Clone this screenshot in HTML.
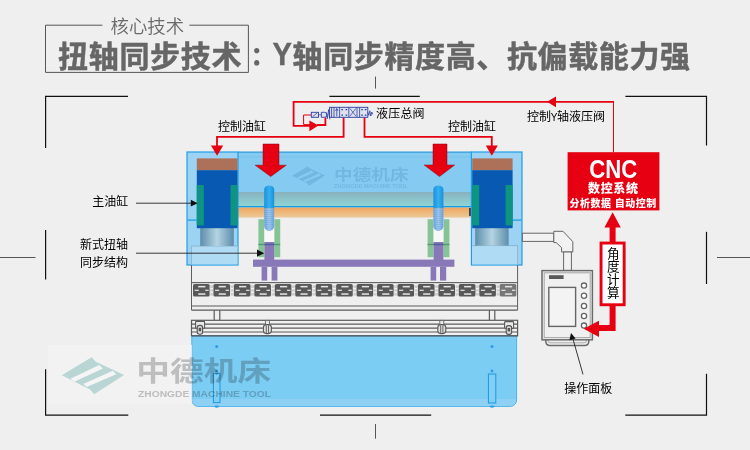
<!DOCTYPE html>
<html lang="zh"><head><meta charset="utf-8"><title>扭轴同步技术</title>
<style>
html,body{margin:0;padding:0;background:#efefef;}
body{width:750px;height:450px;overflow:hidden;font-family:"Liberation Sans","Noto Sans CJK SC",sans-serif;}
svg{display:block}
text{font-family:"Liberation Sans","Noto Sans CJK SC",sans-serif;}
.lb{font-size:12px;fill:#000}
</style></head><body>
<svg width="750" height="450" viewBox="0 0 750 450">
<defs>
<linearGradient id="gTeal" x1="0" y1="0" x2="0" y2="1"><stop offset="0" stop-color="#88b2bd"/><stop offset="1" stop-color="#8fd5d6"/></linearGradient>
<linearGradient id="gOr" x1="0" y1="0" x2="0" y2="1"><stop offset="0" stop-color="#f0a660"/><stop offset="0.85" stop-color="#ecc592"/><stop offset="1" stop-color="#eae2d6"/></linearGradient>
<linearGradient id="gPis" x1="0" y1="0" x2="1" y2="0"><stop offset="0" stop-color="#5d8dab"/><stop offset="0.5" stop-color="#b4d4e2"/><stop offset="1" stop-color="#5d8dab"/></linearGradient>
<linearGradient id="gRod" x1="0" y1="0" x2="1" y2="0"><stop offset="0" stop-color="#1b8fdc"/><stop offset="0.5" stop-color="#35b0f0"/><stop offset="1" stop-color="#1b8fdc"/></linearGradient>
<linearGradient id="gRod2" x1="0" y1="0" x2="1" y2="0"><stop offset="0" stop-color="#6fa4dc"/><stop offset="0.5" stop-color="#9ccaf0"/><stop offset="1" stop-color="#6fa4dc"/></linearGradient>
<pattern id="thr" x="0" y="0" width="4" height="2" patternUnits="userSpaceOnUse"><rect x="0" y="0" width="4" height="1" fill="#5f86c8" opacity="0.25"/></pattern>
<g id="unit">
<rect x="0" y="0" width="16.6" height="12.6" rx="1.5" fill="#585858"/>
<rect x="5.2" y="1.9" width="7.2" height="1.5" fill="#e6e6e6"/>
<rect x="5.2" y="9.3" width="7.2" height="1.5" fill="#e6e6e6"/>
<rect x="1.6" y="5.7" width="4.2" height="1.2" fill="#e6e6e6"/>
<rect x="12.2" y="5.7" width="3.4" height="1.2" fill="#e6e6e6"/>
<rect x="17.2" y="1.2" width="3" height="10.4" fill="#cfcfcf"/>
<rect x="17.2" y="4" width="3" height="1.2" fill="#f4f4f4"/>
<rect x="17.2" y="7.6" width="3" height="1.2" fill="#f4f4f4"/>
</g>
<g id="unitL">
<rect x="0" y="0" width="16.6" height="12.6" rx="1.5" fill="#777"/>
<rect x="5.2" y="1.9" width="7.2" height="1.5" fill="#e6e6e6"/>
<rect x="5.2" y="9.3" width="7.2" height="1.5" fill="#e6e6e6"/>
<rect x="1.6" y="5.7" width="4.2" height="1.2" fill="#e6e6e6"/>
<rect x="12.2" y="5.7" width="3.4" height="1.2" fill="#e6e6e6"/>
</g>
<g id="clampA"><rect x="0" y="0" width="9" height="6.8" rx="0.8" fill="#e9e9e9" stroke="#5a5a5a" stroke-width="1.1"/><rect x="1.6" y="4" width="5.4" height="8.8" rx="2.2" fill="#d9d9d9" stroke="#555" stroke-width="1.1"/><rect x="3" y="6.4" width="2.6" height="3.4" fill="#555"/></g>
<g id="clampB"><rect x="2" y="0" width="4" height="4.4" fill="#e9e9e9" stroke="#666" stroke-width="0.9"/><rect x="0" y="4.2" width="8" height="9" rx="3" fill="#dedede" stroke="#5a5a5a" stroke-width="1.1"/><path d="M2.9,5V12.6M5.1,5V12.6" stroke="#5a5a5a" stroke-width="0.9"/></g>
</defs>
<rect x="0" y="0" width="750" height="450" fill="#efefef"/>
<g fill="none" stroke="#111" stroke-width="1.2">
<path d="M128,96.4H45.6V148"/>
<path d="M625.4,96.4H706.5V145.6"/>
<path d="M45.6,230V279.5"/>
<path d="M706.5,231.8V284"/>
<path d="M45.6,369.3V415.2H128.3"/>
<path d="M706.5,373.7V415.2H625.3"/>
<path d="M329.4,96.4H419.8"/>
<path d="M320,415.2H431.2"/>
</g>
<g fill="none" stroke="#555" stroke-width="1">
<path d="M375.5,76.6V88.6"/>
<path d="M375.5,424V438.7"/>
<path d="M0,257.5H35.5"/>
<path d="M717,257.5H750"/>
</g>
<g fill="none" stroke="#555" stroke-width="1">
<path d="M102.4,25.2H45.5V72.4H248.4V25.2H189.4"/>
</g>
<text x="110.5" y="32.5" font-size="18.4" font-weight="350" fill="#6a6a6a" style="font-family:'Liberation Sans','Noto Sans CJK SC',sans-serif">核心技术</text>
<text id="t1" font-size="30" font-weight="700" fill="#666" stroke="#666" stroke-width="0.5"><tspan x="58" y="66.5" letter-spacing="0.7">扭轴同步技术</tspan><tspan x="250.5" y="65.1" font-size="25" font-weight="900" stroke="none" style="font-family:'Liberation Sans','Noto Sans CJK JP',sans-serif">：</tspan><tspan x="272.6" y="64.8" font-size="32" stroke-width="0.4" textLength="19.4" lengthAdjust="spacingAndGlyphs">Y</tspan><tspan x="292.6" y="66.5" letter-spacing="0.62">轴同步精度高、抗偏载能力强</tspan></text>
<g>
<rect x="238" y="152" width="233.5" height="40" fill="#85cbf1"/>
<rect x="238" y="192" width="233.5" height="14.5" fill="url(#gTeal)"/>
<rect x="238" y="206" width="233.5" height="1.6" fill="#1a9ade"/>
<rect x="238" y="207.6" width="233.5" height="10.4" fill="url(#gOr)"/>
<rect x="238" y="151.5" width="233.5" height="1.2" fill="#2b9ad8"/>
<rect x="238" y="156.6" width="233.5" height="0.8" fill="#74bdea"/>
<rect x="469.2" y="208" width="1.6" height="8" fill="#222"/>
</g>
<g>
<rect x="187" y="152" width="51" height="113" fill="#9cd3f5" stroke="#1f9fe6" stroke-width="1.2"/>
<rect x="187.6" y="219.4" width="9" height="1.4" fill="#27a2e4"/>
<rect x="191.5" y="246" width="46" height="18.4" fill="#b0dbf5"/>
<path d="M237.4,246H191.5V265" fill="none" stroke="#8eb6cc" stroke-width="1"/><path d="M191.5,265V310" fill="none" stroke="#5e5e5e" stroke-width="1"/>
<rect x="200.2" y="228" width="33.6" height="18" fill="url(#gPis)"/>
<rect x="196.8" y="158.4" width="40.7" height="12" fill="#ad7159"/>
<rect x="196.8" y="170.2" width="40.7" height="58" fill="#0759b2"/>
<rect x="196.8" y="185" width="7" height="40.4" fill="#0d9582"/>
<rect x="230.5" y="185" width="7" height="40.4" fill="#0d9582"/>
</g>
<g>
<rect x="471.4" y="152" width="50.6" height="113" fill="#9cd3f5" stroke="#1f9fe6" stroke-width="1.2"/>
<rect x="512.6" y="219.4" width="9" height="1.4" fill="#27a2e4"/>
<rect x="472" y="245.6" width="45.6" height="18.8" fill="#b0dbf5"/>
<path d="M472.4,245.6H517.6V265" fill="none" stroke="#8eb6cc" stroke-width="1"/><path d="M517.6,265V310" fill="none" stroke="#5e5e5e" stroke-width="1"/>
<rect x="475.2" y="228" width="33.4" height="17.6" fill="url(#gPis)"/>
<rect x="472.2" y="158.4" width="40.4" height="12" fill="#ad7159"/>
<rect x="472.2" y="170.2" width="40.4" height="58" fill="#0759b2"/>
<rect x="472.2" y="185" width="7" height="40.4" fill="#0d9582"/>
<rect x="505.6" y="185" width="7" height="40.4" fill="#0d9582"/>
</g>
<g>
<rect x="258.4" y="219.2" width="6" height="38" fill="#86c497"/>
<rect x="274.2" y="219.2" width="6" height="38" fill="#86c497"/>
<rect x="264.4" y="219.2" width="9.8" height="23" fill="#f8f8f8"/>
<rect x="264.4" y="242" width="9.8" height="19" fill="#8878b8"/>
<rect x="258.4" y="243.8" width="21.8" height="1.4" fill="#4f9a70"/>
<rect x="264.4" y="243.8" width="9.8" height="1.4" fill="#5a55a8"/>
<path d="M264.2,189.4 a5,4 0 0 1 10,0 V208.5 H264.2Z" fill="url(#gRod)"/>
<path d="M264.2,208.5 H274.2 V226 a5,5 0 0 1 -10,0Z" fill="url(#gRod2)"/>
<path d="M264.2,209 H274.2 V226 a5,5 0 0 1 -10,0Z" fill="url(#thr)"/>
</g><g>
<rect x="427.59999999999997" y="219.2" width="6" height="38" fill="#86c497"/>
<rect x="443.4" y="219.2" width="6" height="38" fill="#86c497"/>
<rect x="433.59999999999997" y="219.2" width="9.8" height="23" fill="#f8f8f8"/>
<rect x="433.59999999999997" y="242" width="9.8" height="19" fill="#8878b8"/>
<rect x="427.59999999999997" y="243.8" width="21.8" height="1.4" fill="#4f9a70"/>
<rect x="433.59999999999997" y="243.8" width="9.8" height="1.4" fill="#5a55a8"/>
<path d="M433.4,189.4 a5,4 0 0 1 10,0 V208.5 H433.4Z" fill="url(#gRod)"/>
<path d="M433.4,208.5 H443.4 V226 a5,5 0 0 1 -10,0Z" fill="url(#gRod2)"/>
<path d="M433.4,209 H443.4 V226 a5,5 0 0 1 -10,0Z" fill="url(#thr)"/>
</g><g fill="#8878b8">
<rect x="253" y="259.6" width="201.4" height="7.2"/>
<rect x="261.6" y="266.8" width="5.6" height="13.8"/>
<rect x="271.6" y="266.8" width="5.8" height="13.8"/>
<rect x="430.6" y="266.8" width="5.6" height="13.8"/>
<rect x="440" y="266.8" width="6.2" height="13.8"/>
</g>
<g><rect x="191.5" y="282" width="326" height="1.2" fill="#666"/><use href="#unit" x="193.00" y="284"/><use href="#unit" x="213.45" y="284"/><use href="#unit" x="233.90" y="284"/><use href="#unit" x="254.35" y="284"/><use href="#unit" x="274.80" y="284"/><use href="#unit" x="295.25" y="284"/><use href="#unit" x="315.70" y="284"/><use href="#unit" x="336.15" y="284"/><use href="#unit" x="356.60" y="284"/><use href="#unit" x="377.05" y="284"/><use href="#unit" x="397.50" y="284"/><use href="#unit" x="417.95" y="284"/><use href="#unit" x="438.40" y="284"/><use href="#unit" x="458.85" y="284"/><use href="#unit" x="479.30" y="284"/><use href="#unitL" x="499.75" y="284"/></g><g fill="none" stroke="#5a5a5a" stroke-width="1.2">
<path d="M191.5,306H517.6"/>
<path d="M191.5,310.2H517.6"/>
<path d="M214.2,310.2V320.2M219.8,310.2V320.2M489.4,310.2V320.2M494.8,310.2V320.2"/>
<rect x="191.5" y="320.3" width="326.1" height="15.4" fill="#f1f1f1"/>
<path d="M191.5,324.2H517.6"/>
<path d="M191.5,328.2H517.6"/>
<path d="M191.5,332H517.6"/>
</g>
<use href="#clampA" x="195.6" y="321.4"/>
<use href="#clampA" x="504.6" y="321.6"/>
<use href="#clampB" x="263.4" y="320.4"/>
<use href="#clampB" x="437.8" y="320.4"/>
<g>
<path d="M191.8,336H516.6V400a6.4,6.4 0 0 1 -6.4,6.4H198.2a6.4,6.4 0 0 1 -6.4,-6.4Z" fill="#7ccdf4" stroke="#4fb2ea" stroke-width="1"/>
<path d="M192.4,399H516V400.2a5.8,5.8 0 0 1 -5.8,5.7H198.2a5.8,5.8 0 0 1 -5.8,-5.7Z" fill="#8ed1f5"/>
<rect x="191.5" y="335.3" width="326.1" height="1.2" fill="#555"/>
<g fill="#80cff5" stroke="#1f97e0" stroke-width="1">
<rect x="213.4" y="373.6" width="6.6" height="29"/>
<rect x="488.4" y="374" width="7.4" height="29"/>
</g>
<g fill="#2a9de4">
<circle cx="216.7" cy="346.4" r="1.5"/><circle cx="216.7" cy="370.8" r="1.4"/><ellipse cx="216.7" cy="406.6" rx="2.4" ry="1.1"/>
<circle cx="492" cy="346.4" r="1.5"/><circle cx="492" cy="371" r="1.4"/><ellipse cx="492" cy="406.6" rx="2.6" ry="1.1"/>
</g>
</g>
<g stroke="#666" stroke-width="1" fill="#f2f2f2">
<rect x="522.4" y="233.2" width="31.4" height="8.2"/>
<path d="M553.8,231.3H563L572.8,241.6V252H561.6V247.6L556.2,242.6H553.8Z"/>
<rect x="563.6" y="252" width="7.8" height="18.4"/>
</g>
<g>
<path d="M545.8,339.8V341.2q0,4.2 4.2,4.2H584.6q4.2,0 4.2,-4.2V339.8" fill="none" stroke="#6a6a6a" stroke-width="1.5"/>
<path d="M548,339.8V340.4q0,2.4 2.4,2.4H584.2q2.4,0 2.4,-2.4V339.8" fill="none" stroke="#999" stroke-width="0.8"/>
<rect x="542" y="270.6" width="50.4" height="69.2" fill="#f0f0f0" stroke="#6a6a6a" stroke-width="1.5"/>
<rect x="544.2" y="272.8" width="46" height="64.8" fill="none" stroke="#a4a4a4" stroke-width="1"/>
<rect x="549" y="275.2" width="14.6" height="3.8" fill="#5a5a5a"/>
<rect x="548.8" y="287.4" width="26.8" height="39" fill="#f3f3f3" stroke="#666" stroke-width="1.4"/>
<g fill="#fff" stroke="#666" stroke-width="1.3">
<circle cx="584" cy="285.6" r="2.6"/><circle cx="584" cy="295.8" r="2.6"/><circle cx="584" cy="306" r="2.6"/><circle cx="584" cy="316" r="2.6"/><circle cx="584" cy="325.6" r="2.6"/>
</g>
</g>
<g fill="none" stroke="#e60012" stroke-width="1.8" stroke-linejoin="miter">
<path d="M613.5,101.8H293.6V125.8H310"/>
<path d="M317,125H325.4V117.4"/>
<path d="M343.6,117.4V136.9H217V146"/>
<path d="M364.5,117.4V136.9H491.8V146"/>
</g>
<g fill="none" stroke="#e60012" stroke-width="1">
<path d="M613.5,101V152.4"/>
<path d="M311.4,115H303.6V124.6H310"/>
</g>
<g fill="#e60012">
<path d="M309.4,120.4L318.4,125.6L309.4,131.2Z"/>
<path d="M547,101.8L556,96.4V107.2Z"/>
<path d="M211,145.6H223.2L217.1,155.8Z"/>
<path d="M485.8,145.6H497.8L491.8,155.8Z"/>
<path d="M263,144H279V165.2H286.2L270.7,176.6L255.2,165.2H263Z" stroke="#8a0010" stroke-width="0.5"/>
<path d="M433,144H447V165H454.6L439.5,176.6L424.2,165H433Z" stroke="#8a0010" stroke-width="0.5"/>
</g>
<g fill="#dfe0ee" stroke="#2a3ea0" stroke-width="0.9">
<rect x="311.3" y="112.3" width="7.2" height="5"/>
<path d="M321.3,112.3H324.6a2.4,2.5 0 0 1 0,5H321.3Z"/>
<rect x="329.6" y="107.3" width="38.2" height="10"/>
<path d="M331.6,107.3V117.3M334,107.3V117.3M339.6,107.3V117.3M348.8,107.3V117.3M357,107.3V117.3M359.6,107.3V117.3" fill="none" stroke-width="0.8"/>
<path d="M349.8,108.4L356,116.2M356,108.4L349.8,116.2" fill="none" stroke-width="0.7"/>
<path d="M336.8,116.4V109M335.6,110.8L336.8,108.4L338,110.8" fill="none" stroke-width="0.8"/>
<path d="M341.4,109.6H343M345.6,109.6H347.2M341.4,115.2H343M345.6,115.2H347.2M361.2,109.6H362.8M364.8,109.6H366.4M361.2,115.2H362.8M364.8,115.2H366.4" fill="none" stroke-width="1.3"/>
<path d="M312.6,116.6L317.2,113M318.5,114.8H321.3" fill="none" stroke-width="0.7"/>
<path d="M326.4,112.6L327.4,118.6L328.6,109.6L329.8,119.4" fill="none" stroke-width="0.8"/>
<path d="M367.8,112.4L368.8,115.4L369.8,110.8L370.8,116L371.8,112L372.8,114.4" fill="none" stroke-width="0.8"/>
</g>
<g>
<rect x="567.6" y="152.2" width="91.8" height="58.2" fill="#e60012"/>
<text id="cnc" x="613.3" y="178.2" font-size="25" font-weight="700" fill="#fff" text-anchor="middle" textLength="48" lengthAdjust="spacingAndGlyphs">CNC</text>
<text id="skxt" x="613.3" y="192.6" font-size="12" font-weight="900" fill="#fff" text-anchor="middle" letter-spacing="0.6">数控系统</text>
<text id="fx" x="613.2" y="206.6" font-size="10" font-weight="900" fill="#fff" text-anchor="middle" letter-spacing="0.5">分析数据 自动控制</text>
</g>
<g fill="#e60012">
<path d="M612.6,212.2L620.8,227.6H615.6V242H609.6V227.6H604.4Z"/>
<rect x="599.6" y="241.6" width="26" height="64.6"/>
<rect x="602.5" y="244.5" width="20.2" height="58.8" fill="#fff"/>
<path d="M609.6,306H615.6V331H599V337L583.6,328.8L599,320.8V325H609.6Z"/>
</g>
<text id="jd" x="611.7" y="247.2" font-size="12.6" fill="#000" writing-mode="vertical-rl" letter-spacing="0.3" style="writing-mode:vertical-rl">角度计算</text>
<g class="lb">
<text class="lb" x="218" y="131">控制油缸</text>
<text class="lb" x="448" y="131">控制油缸</text>
<text class="lb" x="376" y="117.7" letter-spacing="0.2">液压总阀</text>
<text class="lb" x="527" y="120.6">控制<tspan font-size="10" dx="-0.3">Y</tspan><tspan dx="-0.3">轴液压阀</tspan></text>
<text class="lb" x="92.2" y="206.3">主油缸</text>
<text class="lb" x="80" y="249.2">新式扭轴</text>
<text class="lb" x="80" y="266.6">同步结构</text>
<text class="lb" x="564.2" y="392.8">操作面板</text>
</g>
<g stroke="#222" stroke-width="0.9" fill="none">
<path d="M136,203.2H192"/>
<path d="M136,253.2H258"/>
<path d="M583,374.4L572.4,337"/>
</g>
<g fill="#111">
<path d="M197.6,203.2L190.8,199.8V206.6Z"/>
<path d="M264.2,253.2L257,249.6V256.8Z"/>
<path d="M571,333L569.4,340.2L575.6,338.4Z"/>
</g>
<g>
<rect x="48" y="344.8" width="144" height="59" fill="#f3f3f3" opacity="0.8"/>
<path d="M61.7,375.3L91.7,357.2L95.8,361.7L124.1,374.9L94.2,394.2L90,389.4Z" fill="#b9d6d4"/>
<path d="M70.4,378.8L99.2,365.1L103,368.5L74.2,381.7Z" fill="#f5f5f5"/>
<path d="M83.3,384L112.8,370.8L116.2,374.2L86.7,387.1Z" fill="#f5f5f5"/>
</g>
<g fill="#c8c8c8" style="mix-blend-mode:multiply">
<text id="wm1" x="136.2" y="381.4" font-size="27.6" font-weight="700" textLength="135" lengthAdjust="spacingAndGlyphs">中德机床</text>
<text id="wm2" x="138" y="397.1" font-size="9.6" font-weight="700" textLength="133" lengthAdjust="spacingAndGlyphs">ZHONGDE MACHINE TOOL</text>
</g>
<g fill="#4a90c0" opacity="0.33">
<path transform="translate(292,166.2) scale(0.53) translate(-61.7,-357.2)" d="M61.7,375.3L91.7,357.2L95.8,361.7L124.1,374.9L94.2,394.2L90,389.4Z"/>
<text id="wm3" x="334" y="180" font-size="15.2" font-weight="700" textLength="74.5" lengthAdjust="spacingAndGlyphs">中德机床</text>
<text id="wm4" x="334" y="188.4" font-size="5.4" font-weight="700" textLength="74" lengthAdjust="spacingAndGlyphs">ZHONGDE MACHINE TOOL</text>
</g>
<g fill="#85cbf1" transform="translate(292,166.2) scale(0.53) translate(-61.7,-357.2)">
<path d="M70.4,378.8L99.2,365.1L103,368.5L74.2,381.7Z"/>
<path d="M83.3,384L112.8,370.8L116.2,374.2L86.7,387.1Z"/>
</g>
</svg></body></html>
